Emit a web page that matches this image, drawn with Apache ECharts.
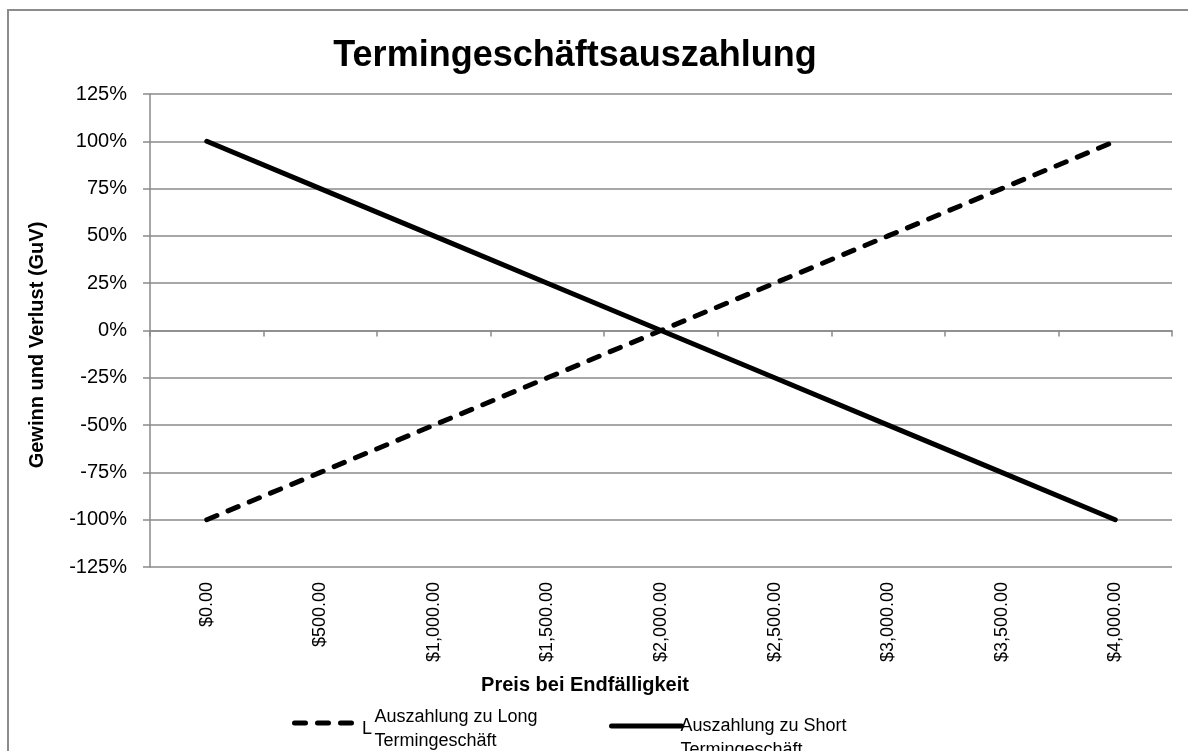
<!DOCTYPE html>
<html>
<head>
<meta charset="utf-8">
<script src="https://cdn.jsdelivr.net/npm/echarts@6/dist/echarts.min.js"></script>
<style>
html,body{margin:0;padding:0;background:#fff;}
#chart{width:1188px;height:751px;}
</style>
</head>
<body>
<div id="chart"></div>
<script>
const categories = ['$0.00','$500.00','$1,000.00','$1,500.00','$2,000.00','$2,500.00','$3,000.00','$3,500.00','$4,000.00'];
const longPayoff = [-100,-75,-50,-25,0,25,50,75,100];
const shortPayoff = [100,75,50,25,0,-25,-50,-75,-100];
const yTicks = {min:-125, max:125, interval:25};
const titleText = 'Termingeschäftsauszahlung';
const xTitle = 'Preis bei Endfälligkeit';
const yTitle = 'Gewinn und Verlust (GuV)';
const seriesNames = ['Auszahlung zu Long\nTermingeschäft','Auszahlung zu Short\nTermingeschäft'];

const FONT = '"Liberation Sans", Arial, sans-serif';
const GRID_C = '#8a8a8a';
const DASH = [11,12];

const chart = echarts.init(document.getElementById('chart'), null, {renderer:'canvas'});
chart.setOption({
  animation:false,
  backgroundColor:'#fff',
  textStyle:{fontFamily:FONT},
  grid:{left:150, right:16, top:94, bottom:184, containLabel:false},
  xAxis:[{
    type:'category', data:categories, boundaryGap:true, position:'bottom',
    axisLine:{show:false, onZero:false},
    axisTick:{show:false},
    axisLabel:{rotate:90, margin:15, interval:0, fontSize:18, color:'#000', fontFamily:FONT},
    splitLine:{show:false}
  },{
    type:'category', data:categories, boundaryGap:true, position:'bottom',
    axisLine:{show:true, onZero:true, lineStyle:{color:GRID_C, width:1.5}},
    axisTick:{show:true, interval:0, length:6, lineStyle:{color:GRID_C, width:1.5}},
    axisLabel:{show:false},
    splitLine:{show:false}
  }],
  yAxis:{
    type:'value', min:yTicks.min, max:yTicks.max, interval:yTicks.interval,
    axisLine:{show:true, lineStyle:{color:GRID_C, width:1.5}},
    axisTick:{show:true, length:7, lineStyle:{color:GRID_C, width:1.5}},
    axisLabel:{formatter:v=>v+'%', margin:23, fontSize:20, color:'#000', fontFamily:FONT},
    splitLine:{show:true, lineStyle:{color:GRID_C, width:1.5}}
  },
  legend:[{
    data:[seriesNames[0]], left:287, top:688, itemWidth:63, itemHeight:14, itemGap:0,
    itemStyle:{opacity:0},
    lineStyle:{color:'#000', width:5, type:DASH, cap:'round', opacity:1},
    formatter:n=>'{s| }\n'+n,
    textStyle:{fontSize:18, color:'#000', lineHeight:24, fontFamily:FONT, padding:[0,0,0,12],
      rich:{s:{fontSize:8, lineHeight:12}}}
  },{
    data:[seriesNames[1]], left:604, top:685, itemWidth:70, itemHeight:14, itemGap:0,
    itemStyle:{opacity:0},
    lineStyle:{color:'#000', width:5, type:'solid', cap:'round', opacity:1},
    formatter:n=>'{s| }\n'+n,
    textStyle:{fontSize:18, color:'#000', lineHeight:24, fontFamily:FONT, padding:[0,0,0,-6],
      rich:{s:{fontSize:8, lineHeight:24}}}
  }],
  series:[{
    name:seriesNames[0], type:'line', data:longPayoff, xAxisIndex:0,
    showSymbol:false, symbol:'none', color:'#000',
    lineStyle:{color:'#000', width:5, type:DASH, cap:'round'}
  },{
    name:seriesNames[1], type:'line', data:shortPayoff, xAxisIndex:0,
    showSymbol:false, symbol:'none', color:'#000',
    lineStyle:{color:'#000', width:5, type:'solid', cap:'round'}
  }],
  graphic:[
    {type:'rect', shape:{x:8, y:10, width:1300, height:900}, style:{fill:null, stroke:'#8c8c8c', lineWidth:2}, silent:true, z:-1},
    {type:'text', x:575, y:56, style:{text:titleText, font:'bold 36px '+FONT, fill:'#000', textAlign:'center', textVerticalAlign:'middle'}},
    {type:'text', x:585, y:685, style:{text:xTitle, font:'bold 20px '+FONT, fill:'#000', textAlign:'center', textVerticalAlign:'middle'}},
    {type:'text', x:37, y:345, rotation:Math.PI/2, style:{text:yTitle, font:'bold 20px '+FONT, fill:'#000', textAlign:'center', textVerticalAlign:'middle'}},
    {type:'text', x:362, y:720, style:{text:'L', font:'18px '+FONT, fill:'#000'}}
  ]
});
</script>
</body>
</html>
